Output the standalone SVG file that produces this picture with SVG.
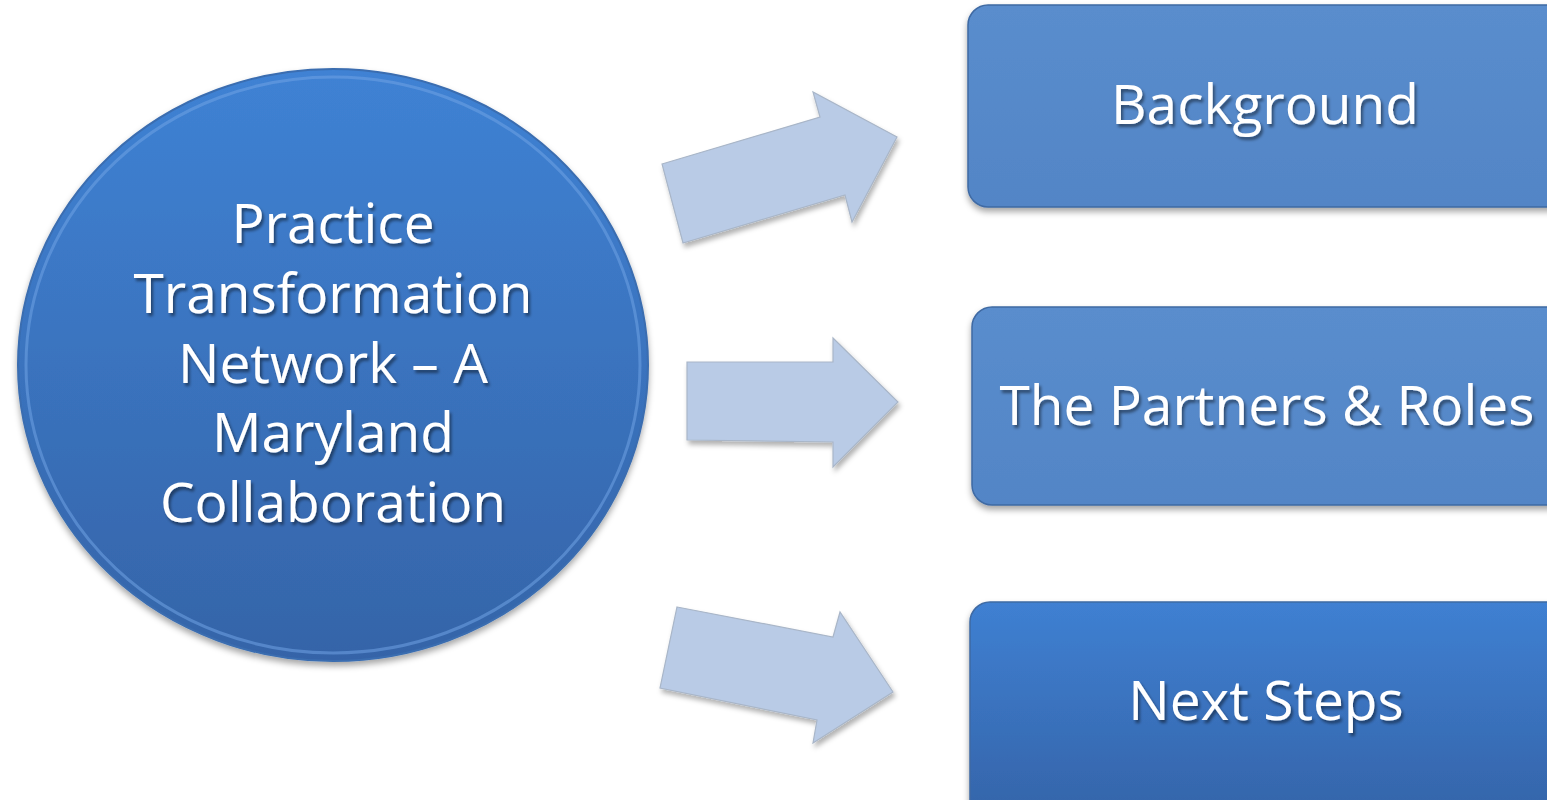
<svg xmlns="http://www.w3.org/2000/svg" width="1547" height="800" viewBox="0 0 1547 800">
<defs>
<style>
.lbl{font-family:"Open Sans","Noto Sans","Liberation Sans",sans-serif;font-size:55px;fill:#ffffff;text-anchor:middle;filter:url(#ts)}
.arrow{fill:#b9cbe6;stroke:#a9b6c8;stroke-width:1.2;filter:url(#as)}
.box{stroke:#3f6aa3;stroke-width:1.5;filter:url(#bs)}
</style>
<linearGradient id="gc" x1="0" y1="0" x2="0" y2="1">
<stop offset="0" stop-color="#3f82d4"/>
<stop offset="1" stop-color="#3564a8"/>
</linearGradient>
<linearGradient id="gb" x1="0" y1="0" x2="0" y2="1">
<stop offset="0" stop-color="#5a8dcd"/>
<stop offset="1" stop-color="#5285c6"/>
</linearGradient>
<linearGradient id="gn" x1="0" y1="0" x2="0" y2="1">
<stop offset="0" stop-color="#3f80d2"/>
<stop offset="1" stop-color="#3462a6"/>
</linearGradient>
<filter id="ts" x="-10%" y="-30%" width="120%" height="160%">
<feDropShadow dx="2" dy="3" stdDeviation="1.5" flood-color="#000" flood-opacity="0.45"/>
</filter>
<filter id="as" x="-10%" y="-10%" width="130%" height="130%">
<feDropShadow dx="2" dy="4" stdDeviation="2.5" flood-color="#000" flood-opacity="0.3"/>
</filter>
<filter id="bs" x="-5%" y="-10%" width="110%" height="130%">
<feDropShadow dx="0" dy="4" stdDeviation="3" flood-color="#000" flood-opacity="0.35"/>
</filter>
</defs>
<rect width="1547" height="800" fill="#ffffff"/>
<g id="connectors">
<polygon class="arrow" points="662,164 820,117 813,92 897,137 852,222 845,195 683,243"/>
<polygon class="arrow" points="687,362 833,362 833,338 898,402 833,467 833,442 687,440"/>
<polygon class="arrow" points="677,607 833,637 840,612 893,692 813,743 817,720 660,688"/>
</g>
<g id="node-center">
<ellipse cx="333" cy="365" rx="315" ry="296" fill="url(#gc)" stroke="#3a6db0" stroke-width="2" filter="url(#bs)"/>
<ellipse cx="333" cy="365" rx="307" ry="288" fill="none" stroke="#6fa3e3" stroke-width="3" opacity="0.55"/>
<text class="lbl"><tspan x="333" y="243">Practice</tspan><tspan x="333" y="313">Transformation</tspan><tspan x="333" y="383">Network – A</tspan><tspan x="333" y="452">Maryland</tspan><tspan x="333" y="522">Collaboration</tspan></text>
</g>
<g id="node-background">
<rect class="box" x="968" y="5" width="610" height="202" rx="20" fill="url(#gb)"/>
<text class="lbl" x="1265" y="124">Background</text>
</g>
<g id="node-partners">
<rect class="box" x="972" y="307" width="610" height="198" rx="20" fill="url(#gb)"/>
<text class="lbl" x="1267" y="425">The Partners &amp; Roles</text>
</g>
<g id="node-next">
<rect class="box" x="970" y="602" width="610" height="230" rx="20" fill="url(#gn)"/>
<text class="lbl" x="1266" y="720">Next Steps</text>
</g>
</svg>
